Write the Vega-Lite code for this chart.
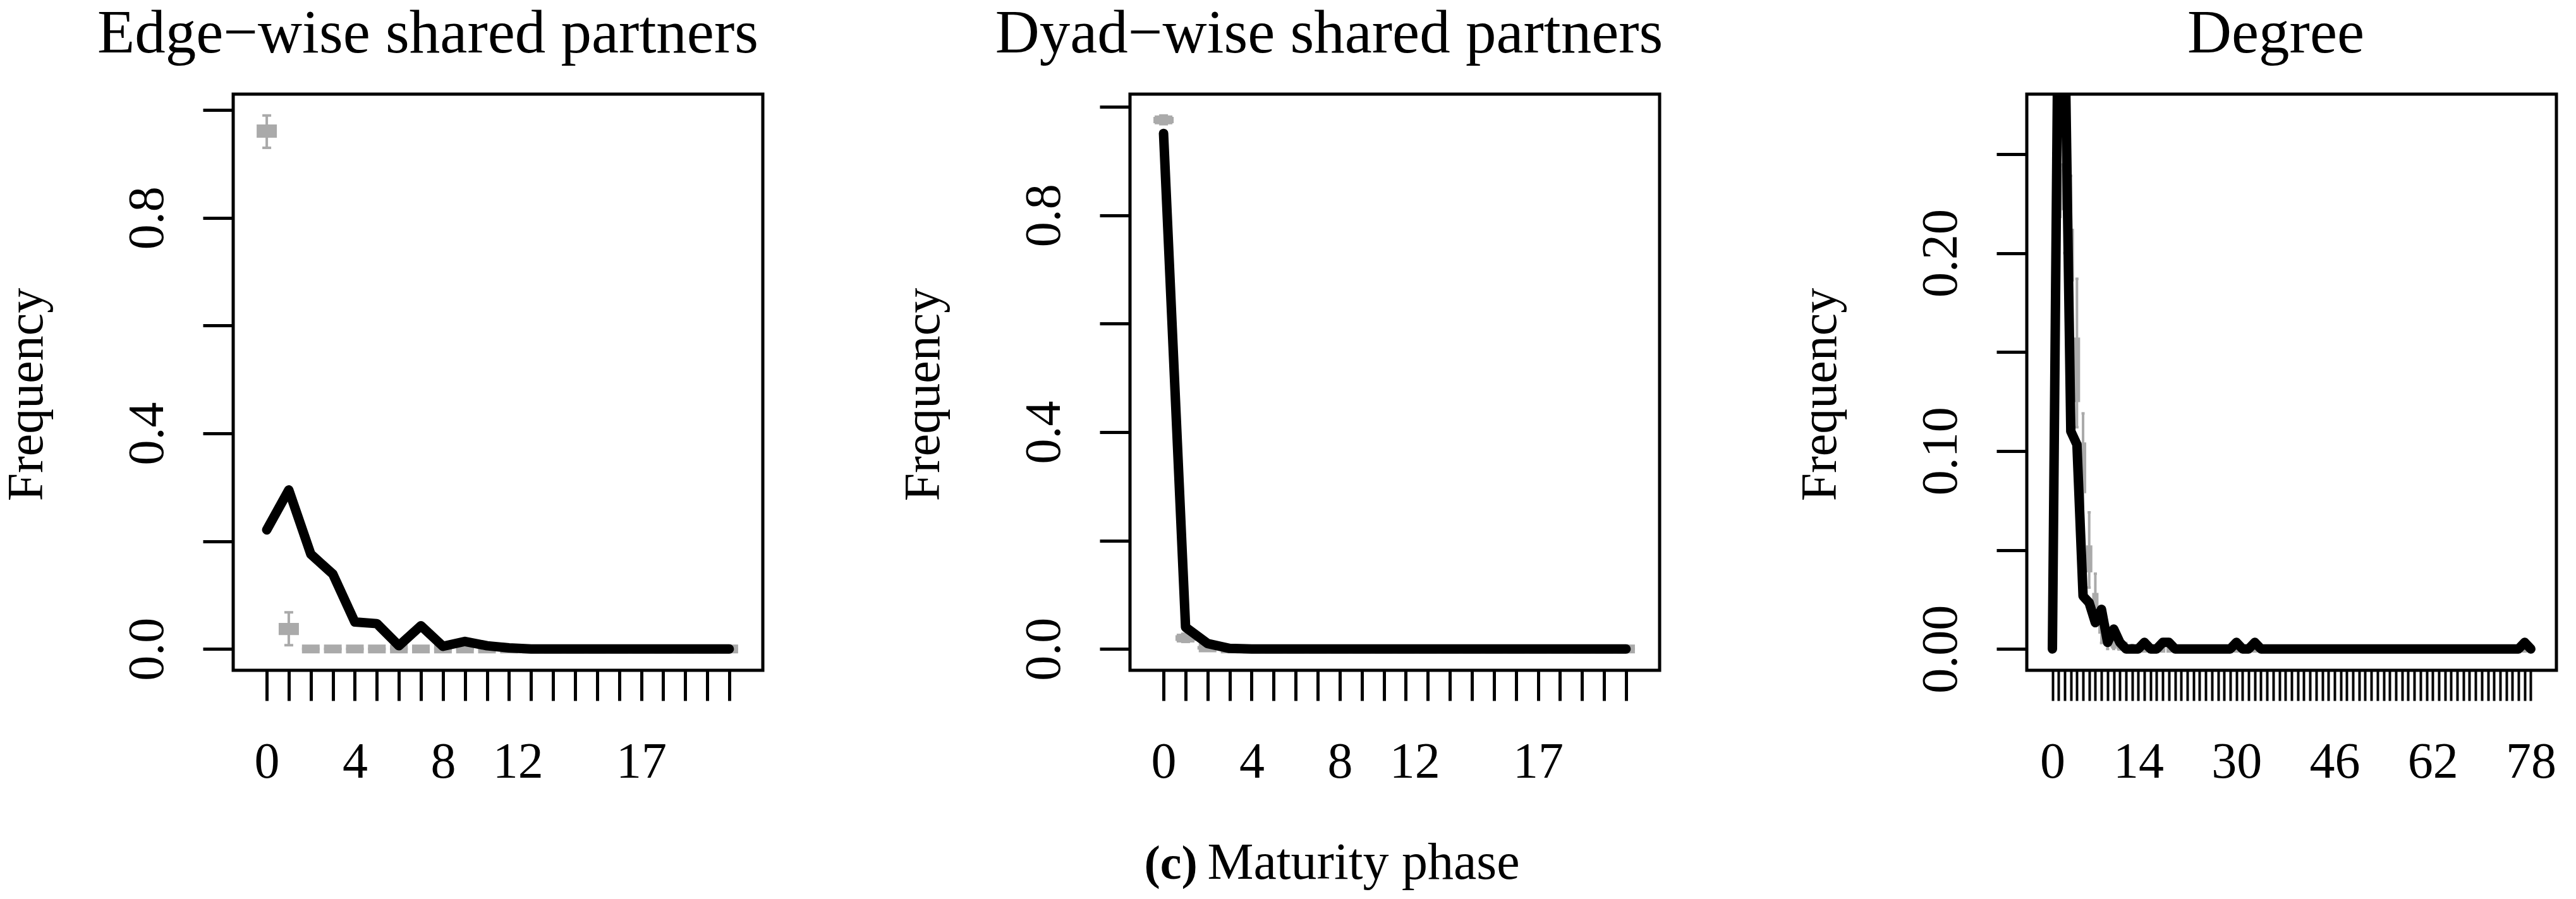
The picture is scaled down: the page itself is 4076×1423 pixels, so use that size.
{
  "$schema": "https://vega.github.io/schema/vega-lite/v6.json",
  "background": "white",
  "padding": {"left": 369, "top": 149, "right": 3707, "bottom": 1274},
  "autosize": {"type": "none"},
  "spacing": 581,
  "bounds": "flush",
  "config": {
    "view": {"stroke": "black", "strokeWidth": 5},
    "font": "Liberation Serif",
    "title": {"font": "Liberation Serif", "fontSize": 97, "fontWeight": "normal", "color": "black", "baseline": "alphabetic", "offset": 46, "frame": "group", "anchor": "middle"},
    "axis": {"domain": false, "grid": false, "ticks": true, "tickColor": "black", "tickWidth": 5, "tickSize": 48, "labelFont": "Liberation Serif", "labelFontSize": 80, "labelColor": "black", "labelOverlap": false, "labelFlush": false, "labelBound": false, "titleFont": "Liberation Serif", "titleFontSize": 80, "titleFontWeight": "normal", "titleColor": "black"}
  },
  "hconcat": [
    {
      "width": 838, "height": 912,
      "title": {"text": "Edge−wise shared partners", "dx": -111},
      "data": {"values": [
        {"k":0,"obs":0.221,"lo":0.930,"q1":0.951,"med":0.961,"q3":0.971,"hi":0.990},
        {"k":1,"obs":0.295,"lo":0.007,"q1":0.028,"med":0.036,"q3":0.046,"hi":0.068},
        {"k":2,"obs":0.176,"lo":0,"q1":0,"med":0,"q3":0,"hi":0.003},
        {"k":3,"obs":0.139,"lo":0,"q1":0,"med":0,"q3":0,"hi":0.002},
        {"k":4,"obs":0.050,"lo":0,"q1":0,"med":0,"q3":0,"hi":0.001},
        {"k":5,"obs":0.047,"lo":0,"q1":0,"med":0,"q3":0,"hi":0.001},
        {"k":6,"obs":0.006,"lo":0,"q1":0,"med":0,"q3":0,"hi":0},
        {"k":7,"obs":0.043,"lo":0,"q1":0,"med":0,"q3":0,"hi":0},
        {"k":8,"obs":0.005,"lo":0,"q1":0,"med":0,"q3":0,"hi":0},
        {"k":9,"obs":0.014,"lo":0,"q1":0,"med":0,"q3":0,"hi":0},
        {"k":10,"obs":0.006,"lo":0,"q1":0,"med":0,"q3":0,"hi":0},
        {"k":11,"obs":0.002,"lo":0,"q1":0,"med":0,"q3":0,"hi":0},
        {"k":12,"obs":0,"lo":0,"q1":0,"med":0,"q3":0,"hi":0},
        {"k":13,"obs":0,"lo":0,"q1":0,"med":0,"q3":0,"hi":0},
        {"k":14,"obs":0,"lo":0,"q1":0,"med":0,"q3":0,"hi":0},
        {"k":15,"obs":0,"lo":0,"q1":0,"med":0,"q3":0,"hi":0},
        {"k":16,"obs":0,"lo":0,"q1":0,"med":0,"q3":0,"hi":0},
        {"k":17,"obs":0,"lo":0,"q1":0,"med":0,"q3":0,"hi":0},
        {"k":18,"obs":0,"lo":0,"q1":0,"med":0,"q3":0,"hi":0},
        {"k":19,"obs":0,"lo":0,"q1":0,"med":0,"q3":0,"hi":0},
        {"k":20,"obs":0,"lo":0,"q1":0,"med":0,"q3":0,"hi":0},
        {"k":21,"obs":0,"lo":0,"q1":0,"med":0,"q3":0,"hi":0}
      ]},
      "encoding": {
        "x": {"field": "k", "type": "quantitative", "scale": {"domain": [-1.38, 22.38], "nice": false, "zero": false},
          "axis": {"values": [0,1,2,3,4,5,6,7,8,9,10,11,12,13,14,15,16,17,18,19,20,21], "format": "d",
            "labelExpr": "indexof([0,4,8,12,17], datum.value) >= 0 ? datum.label : ''",
            "labelOffset": {"condition": {"test": "datum.value == 12", "value": -21}, "value": 0},
            "labelAngle": 0, "labelAlign": "center", "labelBaseline": "alphabetic", "labelPadding": 121,
            "title": "(c)", "titleX": 1441, "titleY": 329, "titleAlign": "left", "titleBaseline": "alphabetic", "titleAngle": 0, "titleFontWeight": "bold", "titleFontSize": 76}}
      },
      "layer": [
        {"mark": {"type": "rule", "color": "#aaaaaa", "strokeWidth": 4},
         "encoding": {"y": {"field": "lo", "type": "quantitative", "scale": {"domain": [-0.0396, 1.0296], "nice": false, "zero": false},
            "axis": {"values": [0,0.2,0.4,0.6,0.8,1], "format": ".1f", "labelExpr": "datum.value == 0 || datum.value == 0.4 || datum.value == 0.8 ? datum.label : ''", "labelAngle": 270, "labelAlign": "center", "labelBaseline": "alphabetic", "labelPadding": 64, "title": "Frequency", "titleX": -303, "titleY": 475, "titleAngle": 270, "titleAlign": "center", "titleBaseline": "alphabetic"}},
           "y2": {"field": "hi"}}},
        {"mark": {"type": "tick", "orient": "horizontal", "color": "#aaaaaa", "size": 14, "thickness": 4, "opacity": 1},
         "encoding": {"y": {"field": "lo", "type": "quantitative", "scale": {"domain": [-0.0396, 1.0296], "nice": false, "zero": false},
            "axis": {"values": [0,0.2,0.4,0.6,0.8,1], "format": ".1f", "labelExpr": "datum.value == 0 || datum.value == 0.4 || datum.value == 0.8 ? datum.label : ''", "labelAngle": 270, "labelAlign": "center", "labelBaseline": "alphabetic", "labelPadding": 64, "title": "Frequency", "titleX": -303, "titleY": 475, "titleAngle": 270, "titleAlign": "center", "titleBaseline": "alphabetic"}}}},
        {"mark": {"type": "tick", "orient": "horizontal", "color": "#aaaaaa", "size": 14, "thickness": 4, "opacity": 1},
         "encoding": {"y": {"field": "hi", "type": "quantitative", "scale": {"domain": [-0.0396, 1.0296], "nice": false, "zero": false},
            "axis": {"values": [0,0.2,0.4,0.6,0.8,1], "format": ".1f", "labelExpr": "datum.value == 0 || datum.value == 0.4 || datum.value == 0.8 ? datum.label : ''", "labelAngle": 270, "labelAlign": "center", "labelBaseline": "alphabetic", "labelPadding": 64, "title": "Frequency", "titleX": -303, "titleY": 475, "titleAngle": 270, "titleAlign": "center", "titleBaseline": "alphabetic"}}}},
        {"mark": {"type": "bar", "orient": "vertical", "width": 28, "color": "#aaaaaa", "stroke": "#aaaaaa", "strokeWidth": 4},
         "encoding": {"y": {"field": "q1", "type": "quantitative", "scale": {"domain": [-0.0396, 1.0296], "nice": false, "zero": false},
            "axis": {"values": [0,0.2,0.4,0.6,0.8,1], "format": ".1f", "labelExpr": "datum.value == 0 || datum.value == 0.4 || datum.value == 0.8 ? datum.label : ''", "labelAngle": 270, "labelAlign": "center", "labelBaseline": "alphabetic", "labelPadding": 64, "title": "Frequency", "titleX": -303, "titleY": 475, "titleAngle": 270, "titleAlign": "center", "titleBaseline": "alphabetic"}},
           "y2": {"field": "q3"}}},
        {"mark": {"type": "tick", "orient": "horizontal", "color": "#aaaaaa", "size": 28, "thickness": 14, "opacity": 1},
         "encoding": {"y": {"field": "med", "type": "quantitative", "scale": {"domain": [-0.0396, 1.0296], "nice": false, "zero": false},
            "axis": {"values": [0,0.2,0.4,0.6,0.8,1], "format": ".1f", "labelExpr": "datum.value == 0 || datum.value == 0.4 || datum.value == 0.8 ? datum.label : ''", "labelAngle": 270, "labelAlign": "center", "labelBaseline": "alphabetic", "labelPadding": 64, "title": "Frequency", "titleX": -303, "titleY": 475, "titleAngle": 270, "titleAlign": "center", "titleBaseline": "alphabetic"}}}},
        {"mark": {"type": "line", "color": "black", "strokeWidth": 15, "strokeCap": "round", "strokeJoin": "round"},
         "encoding": {"y": {"field": "obs", "type": "quantitative", "scale": {"domain": [-0.0396, 1.0296], "nice": false, "zero": false},
            "axis": {"values": [0,0.2,0.4,0.6,0.8,1], "format": ".1f", "labelExpr": "datum.value == 0 || datum.value == 0.4 || datum.value == 0.8 ? datum.label : ''", "labelAngle": 270, "labelAlign": "center", "labelBaseline": "alphabetic", "labelPadding": 64, "title": "Frequency", "titleX": -303, "titleY": 475, "titleAngle": 270, "titleAlign": "center", "titleBaseline": "alphabetic"}}}}
      ]
    },
    {
      "width": 838, "height": 912,
      "title": {"text": "Dyad−wise shared partners", "dx": -104},
      "data": {"values": [
        {"k":0,"obs":0.951,"lo":0.968,"q1":0.972,"med":0.976,"q3":0.979,"hi":0.984},
        {"k":1,"obs":0.040,"lo":0.013,"q1":0.017,"med":0.020,"q3":0.023,"hi":0.028},
        {"k":2,"obs":0.010,"lo":0,"q1":0.001,"med":0.002,"q3":0.003,"hi":0.006},
        {"k":3,"obs":0.001,"lo":0,"q1":0,"med":0,"q3":0,"hi":0.001},
        {"k":4,"obs":0,"lo":0,"q1":0,"med":0,"q3":0,"hi":0},
        {"k":5,"obs":0,"lo":0,"q1":0,"med":0,"q3":0,"hi":0},
        {"k":6,"obs":0,"lo":0,"q1":0,"med":0,"q3":0,"hi":0},
        {"k":7,"obs":0,"lo":0,"q1":0,"med":0,"q3":0,"hi":0},
        {"k":8,"obs":0,"lo":0,"q1":0,"med":0,"q3":0,"hi":0},
        {"k":9,"obs":0,"lo":0,"q1":0,"med":0,"q3":0,"hi":0},
        {"k":10,"obs":0,"lo":0,"q1":0,"med":0,"q3":0,"hi":0},
        {"k":11,"obs":0,"lo":0,"q1":0,"med":0,"q3":0,"hi":0},
        {"k":12,"obs":0,"lo":0,"q1":0,"med":0,"q3":0,"hi":0},
        {"k":13,"obs":0,"lo":0,"q1":0,"med":0,"q3":0,"hi":0},
        {"k":14,"obs":0,"lo":0,"q1":0,"med":0,"q3":0,"hi":0},
        {"k":15,"obs":0,"lo":0,"q1":0,"med":0,"q3":0,"hi":0},
        {"k":16,"obs":0,"lo":0,"q1":0,"med":0,"q3":0,"hi":0},
        {"k":17,"obs":0,"lo":0,"q1":0,"med":0,"q3":0,"hi":0},
        {"k":18,"obs":0,"lo":0,"q1":0,"med":0,"q3":0,"hi":0},
        {"k":19,"obs":0,"lo":0,"q1":0,"med":0,"q3":0,"hi":0},
        {"k":20,"obs":0,"lo":0,"q1":0,"med":0,"q3":0,"hi":0},
        {"k":21,"obs":0,"lo":0,"q1":0,"med":0,"q3":0,"hi":0}
      ]},
      "encoding": {
        "x": {"field": "k", "type": "quantitative", "scale": {"domain": [-1.38, 22.38], "nice": false, "zero": false},
          "axis": {"values": [0,1,2,3,4,5,6,7,8,9,10,11,12,13,14,15,16,17,18,19,20,21], "format": "d",
            "labelExpr": "indexof([0,4,8,12,17], datum.value) >= 0 ? datum.label : ''",
            "labelOffset": {"condition": {"test": "datum.value == 12", "value": -21}, "value": 0},
            "labelAngle": 0, "labelAlign": "center", "labelBaseline": "alphabetic", "labelPadding": 121,
            "title": "Maturity phase", "titleX": 122, "titleY": 329, "titleAlign": "left", "titleBaseline": "alphabetic", "titleAngle": 0, "titleFontWeight": "normal", "titleFontSize": 82}}
      },
      "layer": [
        {"mark": {"type": "rule", "color": "#aaaaaa", "strokeWidth": 4},
         "encoding": {"y": {"field": "lo", "type": "quantitative", "scale": {"domain": [-0.0394, 1.0234], "nice": false, "zero": false},
            "axis": {"values": [0,0.2,0.4,0.6,0.8,1], "format": ".1f", "labelExpr": "datum.value == 0 || datum.value == 0.4 || datum.value == 0.8 ? datum.label : ''", "labelAngle": 270, "labelAlign": "center", "labelBaseline": "alphabetic", "labelPadding": 64, "title": "Frequency", "titleX": -303, "titleY": 475, "titleAngle": 270, "titleAlign": "center", "titleBaseline": "alphabetic"}},
           "y2": {"field": "hi"}}},
        {"mark": {"type": "tick", "orient": "horizontal", "color": "#aaaaaa", "size": 14, "thickness": 4, "opacity": 1},
         "encoding": {"y": {"field": "lo", "type": "quantitative", "scale": {"domain": [-0.0394, 1.0234], "nice": false, "zero": false},
            "axis": {"values": [0,0.2,0.4,0.6,0.8,1], "format": ".1f", "labelExpr": "datum.value == 0 || datum.value == 0.4 || datum.value == 0.8 ? datum.label : ''", "labelAngle": 270, "labelAlign": "center", "labelBaseline": "alphabetic", "labelPadding": 64, "title": "Frequency", "titleX": -303, "titleY": 475, "titleAngle": 270, "titleAlign": "center", "titleBaseline": "alphabetic"}}}},
        {"mark": {"type": "tick", "orient": "horizontal", "color": "#aaaaaa", "size": 14, "thickness": 4, "opacity": 1},
         "encoding": {"y": {"field": "hi", "type": "quantitative", "scale": {"domain": [-0.0394, 1.0234], "nice": false, "zero": false},
            "axis": {"values": [0,0.2,0.4,0.6,0.8,1], "format": ".1f", "labelExpr": "datum.value == 0 || datum.value == 0.4 || datum.value == 0.8 ? datum.label : ''", "labelAngle": 270, "labelAlign": "center", "labelBaseline": "alphabetic", "labelPadding": 64, "title": "Frequency", "titleX": -303, "titleY": 475, "titleAngle": 270, "titleAlign": "center", "titleBaseline": "alphabetic"}}}},
        {"mark": {"type": "bar", "orient": "vertical", "width": 28, "color": "#aaaaaa", "stroke": "#aaaaaa", "strokeWidth": 4},
         "encoding": {"y": {"field": "q1", "type": "quantitative", "scale": {"domain": [-0.0394, 1.0234], "nice": false, "zero": false},
            "axis": {"values": [0,0.2,0.4,0.6,0.8,1], "format": ".1f", "labelExpr": "datum.value == 0 || datum.value == 0.4 || datum.value == 0.8 ? datum.label : ''", "labelAngle": 270, "labelAlign": "center", "labelBaseline": "alphabetic", "labelPadding": 64, "title": "Frequency", "titleX": -303, "titleY": 475, "titleAngle": 270, "titleAlign": "center", "titleBaseline": "alphabetic"}},
           "y2": {"field": "q3"}}},
        {"mark": {"type": "tick", "orient": "horizontal", "color": "#aaaaaa", "size": 28, "thickness": 14, "opacity": 1},
         "encoding": {"y": {"field": "med", "type": "quantitative", "scale": {"domain": [-0.0394, 1.0234], "nice": false, "zero": false},
            "axis": {"values": [0,0.2,0.4,0.6,0.8,1], "format": ".1f", "labelExpr": "datum.value == 0 || datum.value == 0.4 || datum.value == 0.8 ? datum.label : ''", "labelAngle": 270, "labelAlign": "center", "labelBaseline": "alphabetic", "labelPadding": 64, "title": "Frequency", "titleX": -303, "titleY": 475, "titleAngle": 270, "titleAlign": "center", "titleBaseline": "alphabetic"}}}},
        {"mark": {"type": "line", "color": "black", "strokeWidth": 15, "strokeCap": "round", "strokeJoin": "round"},
         "encoding": {"y": {"field": "obs", "type": "quantitative", "scale": {"domain": [-0.0394, 1.0234], "nice": false, "zero": false},
            "axis": {"values": [0,0.2,0.4,0.6,0.8,1], "format": ".1f", "labelExpr": "datum.value == 0 || datum.value == 0.4 || datum.value == 0.8 ? datum.label : ''", "labelAngle": 270, "labelAlign": "center", "labelBaseline": "alphabetic", "labelPadding": 64, "title": "Frequency", "titleX": -303, "titleY": 475, "titleAngle": 270, "titleAlign": "center", "titleBaseline": "alphabetic"}}}}
      ]
    },
    {
      "width": 838, "height": 912,
      "title": {"text": "Degree", "dx": -25},
      "data": {"values": [
        {"k":0,"obs":0,"lo":0,"q1":0,"med":0,"q3":0,"hi":0.003},
        {"k":1,"obs":0.3467,"lo":0.195,"q1":0.218,"med":0.23,"q3":0.242,"hi":0.2695},
        {"k":2,"obs":0.32,"lo":0.2,"q1":0.222,"med":0.233,"q3":0.245,"hi":0.2566},
        {"k":3,"obs":0.11,"lo":0.173,"q1":0.186,"med":0.198,"q3":0.212,"hi":0.239},
        {"k":4,"obs":0.1033,"lo":0.112,"q1":0.125,"med":0.14,"q3":0.157,"hi":0.187},
        {"k":5,"obs":0.0267,"lo":0.061,"q1":0.079,"med":0.09,"q3":0.104,"hi":0.119},
        {"k":6,"obs":0.0233,"lo":0.031,"q1":0.039,"med":0.046,"q3":0.052,"hi":0.069},
        {"k":7,"obs":0.0133,"lo":0.012,"q1":0.021,"med":0.024,"q3":0.028,"hi":0.038},
        {"k":8,"obs":0.02,"lo":0.003,"q1":0.008,"med":0.011,"q3":0.014,"hi":0.021},
        {"k":9,"obs":0.0033,"lo":0,"q1":0.003,"med":0.005,"q3":0.007,"hi":0.012},
        {"k":10,"obs":0.01,"lo":0,"q1":0.001,"med":0.002,"q3":0.004,"hi":0.007},
        {"k":11,"obs":0.0033,"lo":0,"q1":0,"med":0.001,"q3":0.002,"hi":0.004},
        {"k":12,"obs":0,"lo":0,"q1":0,"med":0,"q3":0.001,"hi":0.003},
        {"k":13,"obs":0,"lo":0,"q1":0,"med":0,"q3":0,"hi":0.002},
        {"k":14,"obs":0,"lo":0,"q1":0,"med":0,"q3":0,"hi":0.001},
        {"k":15,"obs":0.0033,"lo":0,"q1":0,"med":0,"q3":0,"hi":0.001},
        {"k":16,"obs":0,"lo":0,"q1":0,"med":0,"q3":0,"hi":0},
        {"k":17,"obs":0,"lo":0,"q1":0,"med":0,"q3":0,"hi":0},
        {"k":18,"obs":0.0033,"lo":0,"q1":0,"med":0,"q3":0,"hi":0},
        {"k":19,"obs":0.0033,"lo":0,"q1":0,"med":0,"q3":0,"hi":0},
        {"k":20,"obs":0,"lo":0,"q1":0,"med":0,"q3":0,"hi":0},
        {"k":21,"obs":0,"lo":0,"q1":0,"med":0,"q3":0,"hi":0},
        {"k":22,"obs":0,"lo":0,"q1":0,"med":0,"q3":0,"hi":0},
        {"k":23,"obs":0,"lo":0,"q1":0,"med":0,"q3":0,"hi":0},
        {"k":24,"obs":0,"lo":0,"q1":0,"med":0,"q3":0,"hi":0},
        {"k":25,"obs":0,"lo":0,"q1":0,"med":0,"q3":0,"hi":0},
        {"k":26,"obs":0,"lo":0,"q1":0,"med":0,"q3":0,"hi":0},
        {"k":27,"obs":0,"lo":0,"q1":0,"med":0,"q3":0,"hi":0},
        {"k":28,"obs":0,"lo":0,"q1":0,"med":0,"q3":0,"hi":0},
        {"k":29,"obs":0,"lo":0,"q1":0,"med":0,"q3":0,"hi":0},
        {"k":30,"obs":0.0033,"lo":0,"q1":0,"med":0,"q3":0,"hi":0},
        {"k":31,"obs":0,"lo":0,"q1":0,"med":0,"q3":0,"hi":0},
        {"k":32,"obs":0,"lo":0,"q1":0,"med":0,"q3":0,"hi":0},
        {"k":33,"obs":0.0033,"lo":0,"q1":0,"med":0,"q3":0,"hi":0},
        {"k":34,"obs":0,"lo":0,"q1":0,"med":0,"q3":0,"hi":0},
        {"k":35,"obs":0,"lo":0,"q1":0,"med":0,"q3":0,"hi":0},
        {"k":36,"obs":0,"lo":0,"q1":0,"med":0,"q3":0,"hi":0},
        {"k":37,"obs":0,"lo":0,"q1":0,"med":0,"q3":0,"hi":0},
        {"k":38,"obs":0,"lo":0,"q1":0,"med":0,"q3":0,"hi":0},
        {"k":39,"obs":0,"lo":0,"q1":0,"med":0,"q3":0,"hi":0},
        {"k":40,"obs":0,"lo":0,"q1":0,"med":0,"q3":0,"hi":0},
        {"k":41,"obs":0,"lo":0,"q1":0,"med":0,"q3":0,"hi":0},
        {"k":42,"obs":0,"lo":0,"q1":0,"med":0,"q3":0,"hi":0},
        {"k":43,"obs":0,"lo":0,"q1":0,"med":0,"q3":0,"hi":0},
        {"k":44,"obs":0,"lo":0,"q1":0,"med":0,"q3":0,"hi":0},
        {"k":45,"obs":0,"lo":0,"q1":0,"med":0,"q3":0,"hi":0},
        {"k":46,"obs":0,"lo":0,"q1":0,"med":0,"q3":0,"hi":0},
        {"k":47,"obs":0,"lo":0,"q1":0,"med":0,"q3":0,"hi":0},
        {"k":48,"obs":0,"lo":0,"q1":0,"med":0,"q3":0,"hi":0},
        {"k":49,"obs":0,"lo":0,"q1":0,"med":0,"q3":0,"hi":0},
        {"k":50,"obs":0,"lo":0,"q1":0,"med":0,"q3":0,"hi":0},
        {"k":51,"obs":0,"lo":0,"q1":0,"med":0,"q3":0,"hi":0},
        {"k":52,"obs":0,"lo":0,"q1":0,"med":0,"q3":0,"hi":0},
        {"k":53,"obs":0,"lo":0,"q1":0,"med":0,"q3":0,"hi":0},
        {"k":54,"obs":0,"lo":0,"q1":0,"med":0,"q3":0,"hi":0},
        {"k":55,"obs":0,"lo":0,"q1":0,"med":0,"q3":0,"hi":0},
        {"k":56,"obs":0,"lo":0,"q1":0,"med":0,"q3":0,"hi":0},
        {"k":57,"obs":0,"lo":0,"q1":0,"med":0,"q3":0,"hi":0},
        {"k":58,"obs":0,"lo":0,"q1":0,"med":0,"q3":0,"hi":0},
        {"k":59,"obs":0,"lo":0,"q1":0,"med":0,"q3":0,"hi":0},
        {"k":60,"obs":0,"lo":0,"q1":0,"med":0,"q3":0,"hi":0},
        {"k":61,"obs":0,"lo":0,"q1":0,"med":0,"q3":0,"hi":0},
        {"k":62,"obs":0,"lo":0,"q1":0,"med":0,"q3":0,"hi":0},
        {"k":63,"obs":0,"lo":0,"q1":0,"med":0,"q3":0,"hi":0},
        {"k":64,"obs":0,"lo":0,"q1":0,"med":0,"q3":0,"hi":0},
        {"k":65,"obs":0,"lo":0,"q1":0,"med":0,"q3":0,"hi":0},
        {"k":66,"obs":0,"lo":0,"q1":0,"med":0,"q3":0,"hi":0},
        {"k":67,"obs":0,"lo":0,"q1":0,"med":0,"q3":0,"hi":0},
        {"k":68,"obs":0,"lo":0,"q1":0,"med":0,"q3":0,"hi":0},
        {"k":69,"obs":0,"lo":0,"q1":0,"med":0,"q3":0,"hi":0},
        {"k":70,"obs":0,"lo":0,"q1":0,"med":0,"q3":0,"hi":0},
        {"k":71,"obs":0,"lo":0,"q1":0,"med":0,"q3":0,"hi":0},
        {"k":72,"obs":0,"lo":0,"q1":0,"med":0,"q3":0,"hi":0},
        {"k":73,"obs":0,"lo":0,"q1":0,"med":0,"q3":0,"hi":0},
        {"k":74,"obs":0,"lo":0,"q1":0,"med":0,"q3":0,"hi":0},
        {"k":75,"obs":0,"lo":0,"q1":0,"med":0,"q3":0,"hi":0},
        {"k":76,"obs":0,"lo":0,"q1":0,"med":0,"q3":0,"hi":0},
        {"k":77,"obs":0.0033,"lo":0,"q1":0,"med":0,"q3":0,"hi":0},
        {"k":78,"obs":0,"lo":0,"q1":0,"med":0,"q3":0,"hi":0}
      ]},
      "encoding": {
        "x": {"field": "k", "type": "quantitative", "scale": {"domain": [-3.66, 81.66], "nice": false, "zero": false},
          "axis": {"values": [0,1,2,3,4,5,6,7,8,9,10,11,12,13,14,15,16,17,18,19,20,21,22,23,24,25,26,27,28,29,30,31,32,33,34,35,36,37,38,39,40,41,42,43,44,45,46,47,48,49,50,51,52,53,54,55,56,57,58,59,60,61,62,63,64,65,66,67,68,69,70,71,72,73,74,75,76,77,78], "format": "d",
            "labelExpr": "indexof([0,14,30,46,62,78], datum.value) >= 0 ? datum.label : ''",
            "tickWidth": 4,
            "labelAngle": 0, "labelAlign": "center", "labelBaseline": "alphabetic", "labelPadding": 121,
            "title": null}}
      },
      "layer": [
        {"mark": {"type": "rule", "color": "#aaaaaa", "strokeWidth": 4},
         "encoding": {"y": {"field": "lo", "type": "quantitative", "scale": {"domain": [-0.0108, 0.2803], "nice": false, "zero": false},
            "axis": {"values": [0,0.05,0.1,0.15,0.2,0.25], "format": ".2f", "labelExpr": "datum.value == 0 || datum.value == 0.1 || datum.value == 0.2 ? datum.label : ''", "labelAngle": 270, "labelAlign": "center", "labelBaseline": "alphabetic", "labelPadding": 64, "title": "Frequency", "titleX": -303, "titleY": 475, "titleAngle": 270, "titleAlign": "center", "titleBaseline": "alphabetic"}},
           "y2": {"field": "hi"}}},
        {"mark": {"type": "tick", "orient": "horizontal", "color": "#aaaaaa", "size": 5, "thickness": 4, "opacity": 1},
         "encoding": {"y": {"field": "lo", "type": "quantitative", "scale": {"domain": [-0.0108, 0.2803], "nice": false, "zero": false},
            "axis": {"values": [0,0.05,0.1,0.15,0.2,0.25], "format": ".2f", "labelExpr": "datum.value == 0 || datum.value == 0.1 || datum.value == 0.2 ? datum.label : ''", "labelAngle": 270, "labelAlign": "center", "labelBaseline": "alphabetic", "labelPadding": 64, "title": "Frequency", "titleX": -303, "titleY": 475, "titleAngle": 270, "titleAlign": "center", "titleBaseline": "alphabetic"}}}},
        {"mark": {"type": "tick", "orient": "horizontal", "color": "#aaaaaa", "size": 5, "thickness": 4, "opacity": 1},
         "encoding": {"y": {"field": "hi", "type": "quantitative", "scale": {"domain": [-0.0108, 0.2803], "nice": false, "zero": false},
            "axis": {"values": [0,0.05,0.1,0.15,0.2,0.25], "format": ".2f", "labelExpr": "datum.value == 0 || datum.value == 0.1 || datum.value == 0.2 ? datum.label : ''", "labelAngle": 270, "labelAlign": "center", "labelBaseline": "alphabetic", "labelPadding": 64, "title": "Frequency", "titleX": -303, "titleY": 475, "titleAngle": 270, "titleAlign": "center", "titleBaseline": "alphabetic"}}}},
        {"mark": {"type": "bar", "orient": "vertical", "width": 8, "color": "#aaaaaa", "stroke": "#aaaaaa", "strokeWidth": 2, "clip": true},
         "encoding": {"y": {"field": "q1", "type": "quantitative", "scale": {"domain": [-0.0108, 0.2803], "nice": false, "zero": false},
            "axis": {"values": [0,0.05,0.1,0.15,0.2,0.25], "format": ".2f", "labelExpr": "datum.value == 0 || datum.value == 0.1 || datum.value == 0.2 ? datum.label : ''", "labelAngle": 270, "labelAlign": "center", "labelBaseline": "alphabetic", "labelPadding": 64, "title": "Frequency", "titleX": -303, "titleY": 475, "titleAngle": 270, "titleAlign": "center", "titleBaseline": "alphabetic"}},
           "y2": {"field": "q3"}}},
        {"mark": {"type": "tick", "orient": "horizontal", "color": "#aaaaaa", "size": 8, "thickness": 12, "opacity": 1},
         "encoding": {"y": {"field": "med", "type": "quantitative", "scale": {"domain": [-0.0108, 0.2803], "nice": false, "zero": false},
            "axis": {"values": [0,0.05,0.1,0.15,0.2,0.25], "format": ".2f", "labelExpr": "datum.value == 0 || datum.value == 0.1 || datum.value == 0.2 ? datum.label : ''", "labelAngle": 270, "labelAlign": "center", "labelBaseline": "alphabetic", "labelPadding": 64, "title": "Frequency", "titleX": -303, "titleY": 475, "titleAngle": 270, "titleAlign": "center", "titleBaseline": "alphabetic"}}}},
        {"mark": {"type": "line", "color": "black", "strokeWidth": 15, "strokeCap": "round", "strokeJoin": "round", "clip": true},
         "encoding": {"y": {"field": "obs", "type": "quantitative", "scale": {"domain": [-0.0108, 0.2803], "nice": false, "zero": false},
            "axis": {"values": [0,0.05,0.1,0.15,0.2,0.25], "format": ".2f", "labelExpr": "datum.value == 0 || datum.value == 0.1 || datum.value == 0.2 ? datum.label : ''", "labelAngle": 270, "labelAlign": "center", "labelBaseline": "alphabetic", "labelPadding": 64, "title": "Frequency", "titleX": -303, "titleY": 475, "titleAngle": 270, "titleAlign": "center", "titleBaseline": "alphabetic"}}}}
      ]
    }
  ]
}
